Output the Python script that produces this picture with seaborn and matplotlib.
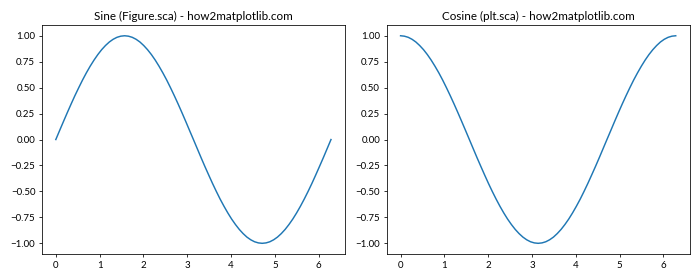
import matplotlib
matplotlib.use("Agg")
import matplotlib.pyplot as plt
import seaborn as sns
import pandas as pd

x_vals = [0.000, 0.087, 0.175, 0.262, 0.349, 0.436, 0.524, 0.611, 0.698, 0.785, 0.873, 0.960,
          1.047, 1.134, 1.222, 1.309, 1.396, 1.484, 1.571, 1.658, 1.745, 1.833, 1.920, 2.007,
          2.094, 2.182, 2.269, 2.356, 2.443, 2.531, 2.618, 2.705, 2.793, 2.880, 2.967, 3.054,
          3.142, 3.229, 3.316, 3.403, 3.491, 3.578, 3.665, 3.752, 3.840, 3.927, 4.014, 4.102,
          4.189, 4.276, 4.363, 4.451, 4.538, 4.625, 4.712, 4.800, 4.887, 4.974, 5.061, 5.149,
          5.236, 5.323, 5.411, 5.498, 5.585, 5.672, 5.760, 5.847, 5.934, 6.021, 6.109, 6.196, 6.283]
sine_vals = [0.000, 0.087, 0.174, 0.259, 0.342, 0.423, 0.500, 0.574, 0.643, 0.707, 0.766, 0.819,
             0.866, 0.906, 0.940, 0.966, 0.985, 0.996, 1.000, 0.996, 0.985, 0.966, 0.940, 0.906,
             0.866, 0.819, 0.766, 0.707, 0.643, 0.574, 0.500, 0.423, 0.342, 0.259, 0.174, 0.087,
             0.000, -0.087, -0.174, -0.259, -0.342, -0.423, -0.500, -0.574, -0.643, -0.707, -0.766, -0.819,
             -0.866, -0.906, -0.940, -0.966, -0.985, -0.996, -1.000, -0.996, -0.985, -0.966, -0.940, -0.906,
             -0.866, -0.819, -0.766, -0.707, -0.643, -0.574, -0.500, -0.423, -0.342, -0.259, -0.174, -0.087, 0.000]
cosine_vals = [1.000, 0.996, 0.985, 0.966, 0.940, 0.906, 0.866, 0.819, 0.766, 0.707, 0.643, 0.574,
               0.500, 0.423, 0.342, 0.259, 0.174, 0.087, 0.000, -0.087, -0.174, -0.259, -0.342, -0.423,
               -0.500, -0.574, -0.643, -0.707, -0.766, -0.819, -0.866, -0.906, -0.940, -0.966, -0.985, -0.996,
               -1.000, -0.996, -0.985, -0.966, -0.940, -0.906, -0.866, -0.819, -0.766, -0.707, -0.643, -0.574,
               -0.500, -0.423, -0.342, -0.259, -0.174, -0.087, 0.000, 0.087, 0.174, 0.259, 0.342, 0.423,
               0.500, 0.574, 0.643, 0.707, 0.766, 0.819, 0.866, 0.906, 0.940, 0.966, 0.985, 0.996, 1.000]
titles = ["Sine (Figure.sca) - how2matplotlib.com", "Cosine (plt.sca) - how2matplotlib.com"]
y_ticks = [-1.0, -0.75, -0.5, -0.25, 0.0, 0.25, 0.5, 0.75, 1.0]
x_ticks = [0, 1, 2, 3, 4, 5, 6]

plt.rcParams['font.family'] = ['Lato', 'DejaVu Sans']

df = pd.DataFrame({"x": x_vals, "sine": sine_vals, "cosine": cosine_vals})

fig, axes = plt.subplots(1, 2, figsize=(10, 4), dpi=70)
for ax, col, title in zip(axes, ["sine", "cosine"], titles):
    sns.lineplot(data=df, x="x", y=col, ax=ax, color="#1f77b4", linewidth=1.5)
    ax.set_title(title, fontsize=12)
    ax.set_xlabel("")
    ax.set_ylabel("")
    ax.set_yticks(y_ticks)
    ax.set_xticks(x_ticks)
    ax.tick_params(labelsize=10)
fig.tight_layout()
fig.savefig("out.png", dpi=70)
